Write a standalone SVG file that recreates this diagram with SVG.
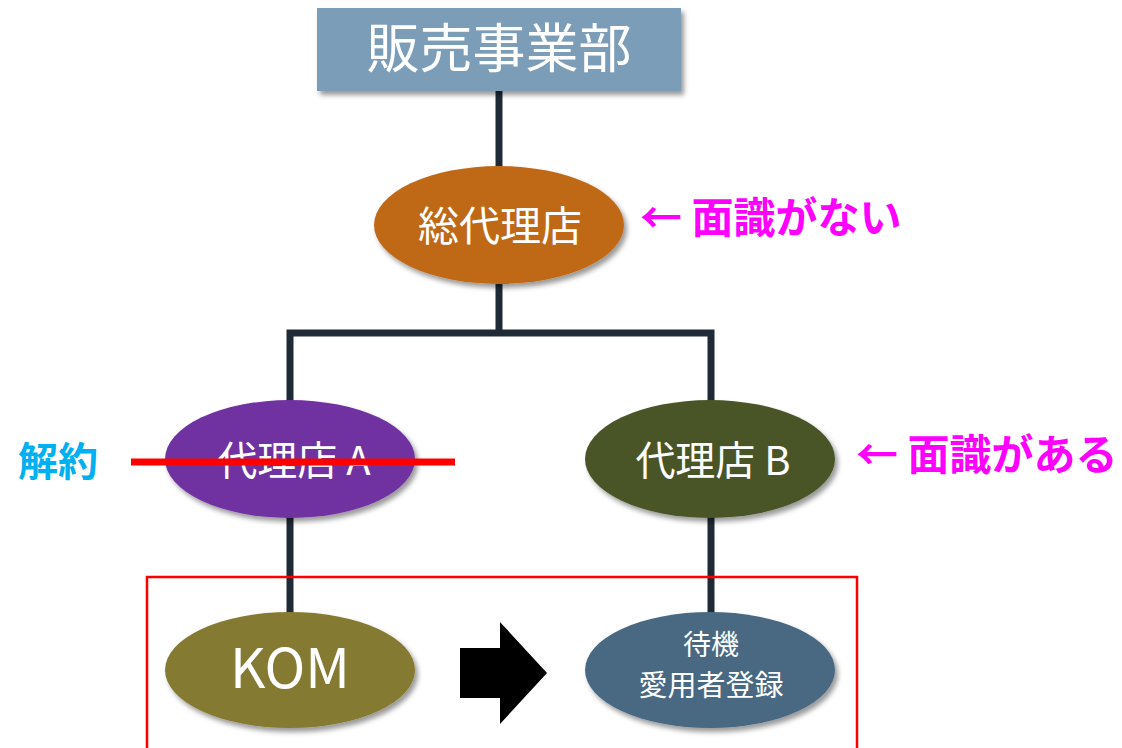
<svg xmlns="http://www.w3.org/2000/svg" width="1122" height="748" viewBox="0 0 1122 748">
<defs>
<filter id="sh" x="-20%" y="-20%" width="140%" height="150%">
<feDropShadow dx="3" dy="4" stdDeviation="2.5" flood-color="#000" flood-opacity="0.4"/>
</filter>
<style>
.t{font-family:"Noto Sans CJK JP","Noto Sans",sans-serif;fill:#fff;text-anchor:middle}
.m{font-family:"Noto Sans CJK JP","Noto Sans",sans-serif;fill:#ff00ff;font-weight:bold}
.c{fill:none;stroke:#1e2a35;stroke-width:7}
</style>
</defs>
<rect width="1122" height="748" fill="#fff"/>
<g id="connectors">
<path class="c" d="M499 91V168"/>
<path class="c" d="M499 284V333M290 405V333H711V405"/>
<path class="c" d="M290 515V614M711 515V614"/>
</g>
<g id="n-hanbai">
<rect x="317" y="8" width="364" height="83" fill="#7b9db7" filter="url(#sh)"/>
<text class="t" x="499" y="68" font-size="53">販売事業部</text>
</g>
<g id="n-sodairiten">
<ellipse cx="499" cy="225" rx="125" ry="59" fill="#bf6918" filter="url(#sh)"/>
<text class="t" x="500" y="241" font-size="41">総代理店</text>
</g>
<g id="n-dairiten-a">
<ellipse cx="290" cy="459" rx="125" ry="59" fill="#7030a0" filter="url(#sh)"/>
<text class="t" x="294" y="475" font-size="40">代理店 A</text>
</g>
<g id="n-dairiten-b">
<ellipse cx="710" cy="459" rx="125" ry="59" fill="#4a5527" filter="url(#sh)"/>
<text class="t" x="713" y="475" font-size="40">代理店 B</text>
</g>
<g id="n-kom">
<ellipse cx="290" cy="670" rx="125" ry="58" fill="#857a31" filter="url(#sh)"/>
<text class="t" x="290" y="688" font-size="55">KOM</text>
</g>
<g id="n-taiki">
<ellipse cx="710" cy="670" rx="125" ry="58" fill="#496882" filter="url(#sh)"/>
<text class="t" x="711" y="655" font-size="28">待機</text>
<text class="t" x="711" y="696" font-size="29">愛用者登録</text>
</g>
<g id="annotations">
<line x1="131" y1="462" x2="455" y2="462" stroke="#ff0000" stroke-width="7"/>
<text x="18" y="476" font-family="'Noto Sans CJK JP','Noto Sans',sans-serif" font-size="40" font-weight="bold" fill="#00b0f0">解約</text>
<text class="m" x="640" y="233" font-size="42">← 面識がない</text>
<text class="m" x="856" y="470" font-size="42">← 面識がある</text>
<rect x="147" y="577" width="710" height="190" fill="none" stroke="#ff0000" stroke-width="2.5"/>
<polygon points="460,648 500,648 500,622 547,673 500,724 500,698 460,698" fill="#000"/>
</g>
</svg>
